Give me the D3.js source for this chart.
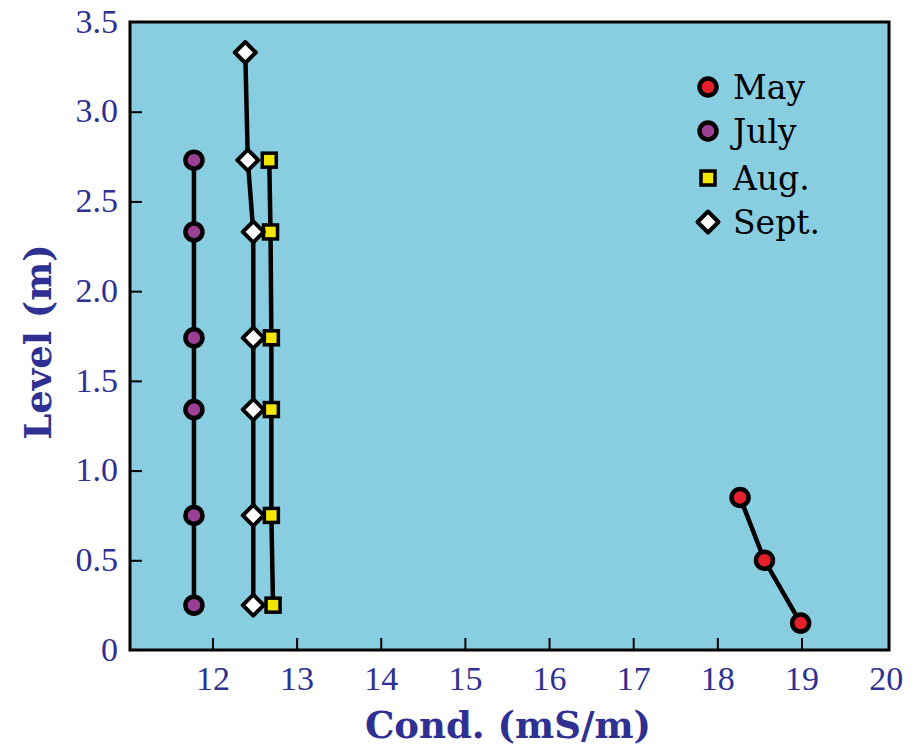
<!DOCTYPE html>
<html><head><meta charset="utf-8">
<script src="https://cdn.jsdelivr.net/npm/d3@7"></script>
<style>body{margin:0;background:#fff}svg{display:block}</style>
</head><body>
<svg id="c" width="923" height="749"></svg>
<script>
const xTicks = [12,13,14,15,16,17,18,19,20];
const yTicks = [0,0.5,1.0,1.5,2.0,2.5,3.0,3.5];
const yTickLabels = ["0","0.5","1.0","1.5","2.0","2.5","3.0","3.5"];
const seriesNames = ["May","July","Aug.","Sept."];
const mayX = [18.27,18.56,18.99];
const mayY = [0.85,0.50,0.15];
const julyX = [11.78,11.78,11.78,11.78,11.78,11.78];
const julyY = [2.73,2.33,1.74,1.34,0.75,0.25];
const augX = [12.675,12.69,12.70,12.70,12.70,12.72];
const augY = [2.73,2.33,1.74,1.34,0.75,0.25];
const septX = [12.39,12.42,12.485,12.485,12.485,12.485,12.485];
const septY = [3.33,2.73,2.33,1.74,1.34,0.75,0.25];

const navy = "#2e3192";
const svg = d3.select("#c");
const x = d3.scaleLinear().domain([11.02,20.04]).range([130,889]);
const y = d3.scaleLinear().domain([0,3.5]).range([650,22]);

svg.append("rect").attr("x",x(11.02)).attr("y",y(3.5))
  .attr("width",x(20.04)-x(11.02)).attr("height",y(0)-y(3.5))
  .attr("fill","#89cde0");

const series = [
  {name:"May", xs:mayX, ys:mayY, shape:"circle", fill:"#e5202a"},
  {name:"July", xs:julyX, ys:julyY, shape:"circle", fill:"#9b3f95"},
  {name:"Aug.", xs:augX, ys:augY, shape:"square", fill:"#f2e500"},
  {name:"Sept.", xs:septX, ys:septY, shape:"diamond", fill:"#ffffff"}
];

const line = d3.line().x(d=>x(d[0])).y(d=>y(d[1]));
series.forEach(s=>{
  const pts = s.xs.map((v,i)=>[v,s.ys[i]]);
  svg.append("path").attr("d",line(pts)).attr("fill","none")
    .attr("stroke","#000").attr("stroke-width",4.5);
});

function marker(g, shape, fill, cx, cy){
  if(shape==="circle"){
    g.append("circle").attr("cx",cx).attr("cy",cy).attr("r",8.5)
      .attr("fill",fill).attr("stroke","#000").attr("stroke-width",4.5);
  } else if(shape==="square"){
    g.append("rect").attr("x",cx-7).attr("y",cy-7).attr("width",14).attr("height",14)
      .attr("fill",fill).attr("stroke","#000").attr("stroke-width",3.5);
  } else {
    const r=10.5;
    g.append("path").attr("d",`M${cx},${cy-r}L${cx+r},${cy}L${cx},${cy+r}L${cx-r},${cy}Z`)
      .attr("fill",fill).attr("stroke","#000").attr("stroke-width",4).attr("stroke-linejoin","round");
  }
}
series.forEach(s=>{
  s.xs.forEach((v,i)=>marker(svg,s.shape,s.fill,x(v),y(s.ys[i])));
});

// axes frame
svg.append("rect").attr("x",x(11.02)).attr("y",y(3.5))
  .attr("width",x(20.04)-x(11.02)).attr("height",y(0)-y(3.5))
  .attr("fill","none").attr("stroke","#000").attr("stroke-width",3);

const tickFont = "'Liberation Serif', serif";
// ticks
const xAxis = d3.axisBottom(x).tickValues(xTicks).tickSizeInner(-12).tickSizeOuter(0).tickPadding(16).tickFormat(d3.format("d"));
const gx = svg.append("g").attr("transform",`translate(0,${y(0)})`).call(xAxis);
gx.select(".domain").remove();
gx.selectAll(".tick line").attr("stroke","#000").attr("stroke-width",2)
  .attr("display",d=>d===20?"none":null);
gx.selectAll(".tick text").attr("fill",navy).attr("font-family",tickFont)
  .attr("font-size",34).attr("dy","0.71em");

const yAxis = d3.axisLeft(y).tickValues(yTicks).tickSizeInner(-12).tickSizeOuter(0).tickPadding(12)
  .tickFormat((d,i)=>yTickLabels[i]);
const gy = svg.append("g").attr("transform",`translate(${x(11.02)},0)`).call(yAxis);
gy.select(".domain").remove();
gy.selectAll(".tick line").attr("stroke","#000").attr("stroke-width",2)
  .attr("display",d=>(d===0||d===3.5)?"none":null);
gy.selectAll(".tick text").attr("fill",navy).attr("font-family",tickFont)
  .attr("font-size",34).attr("dy","0.3em");

// axis titles
svg.append("text").attr("x",508).attr("y",738).attr("text-anchor","middle")
  .attr("fill",navy).attr("font-family","'DejaVu Serif', serif").attr("font-weight","bold")
  .attr("font-size",37).text("Cond. (mS/m)");
svg.append("text").attr("transform","translate(51,342) rotate(-90)").attr("text-anchor","middle")
  .attr("fill",navy).attr("font-family","'DejaVu Serif', serif").attr("font-weight","bold")
  .attr("font-size",37).text("Level (m)");

// legend
const legY = [87,131,178,222];
series.forEach((s,i)=>{
  marker(svg,s.shape,s.fill,708,legY[i]);
  svg.append("text").attr("x",733).attr("y",legY[i]).attr("dy","0.35em")
    .attr("fill","#000").attr("font-family","'DejaVu Serif', serif").attr("font-size",33)
    .text(seriesNames[i]);
});
</script>
</body></html>
